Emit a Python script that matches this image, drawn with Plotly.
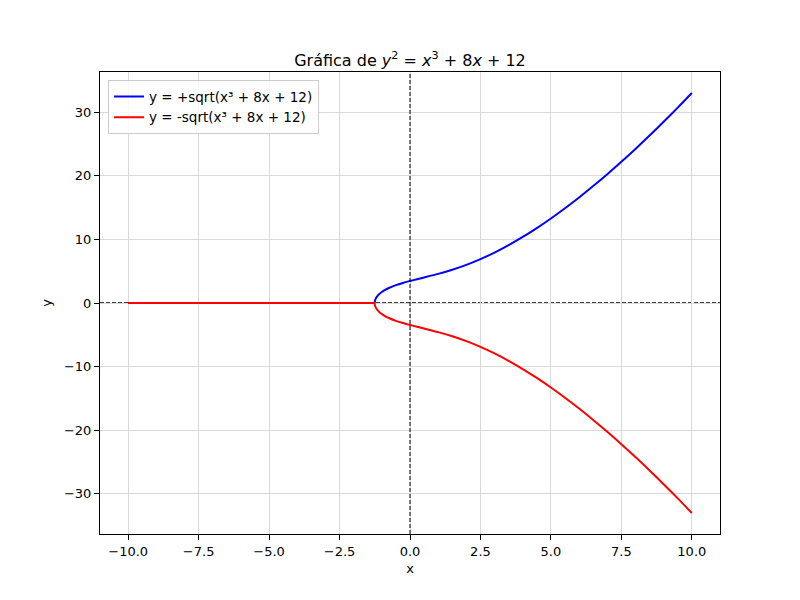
import plotly.graph_objects as go

# Values (upper branch; lower branch is its mirror)
flat_x = [-10.0, -1.2537]
flat_y = [0.0, 0.0]
x_vals = [-1.2537, -1.2535, -1.253, -1.252, -1.25, -1.245, -1.24, -1.23, -1.22, -1.2, -1.15, -1.1,
          -1.0, -0.9, -0.75, -0.5, -0.25, 0.0, 0.25, 0.5, 1.0, 1.5, 2.0, 2.5, 3.0, 3.5, 4.0, 4.5, 5.0,
          5.5, 6.0, 6.5, 7.0, 7.5, 8.0, 8.5, 9.0, 9.5, 10.0]
y_upper = [0.0, 0.049, 0.094, 0.147, 0.2165, 0.332, 0.4164, 0.547, 0.6513, 0.820, 1.131, 1.367,
           1.732, 2.018, 2.362, 2.806, 3.160, 3.464, 3.744, 4.016, 4.583, 5.232, 6.000, 6.901, 7.937,
           9.104, 10.392, 11.795, 13.304, 14.912, 16.613, 18.402, 20.273, 22.223, 24.249, 26.346,
           28.513, 30.747, 33.045]
y_lower = [-v for v in y_upper]

x_ticks = [-10, -7.5, -5, -2.5, 0, 2.5, 5, 7.5, 10]
x_tick_text = ["\u221210.0", "\u22127.5", "\u22125.0", "\u22122.5", "0.0", "2.5", "5.0", "7.5", "10.0"]
y_ticks = [-30, -20, -10, 0, 10, 20, 30]
y_tick_text = ["\u221230", "\u221220", "\u221210", "0", "10", "20", "30"]

font_family = "DejaVu Sans"

fig = go.Figure()
fig.add_trace(go.Scatter(x=flat_x, y=flat_y, mode="lines", showlegend=False, legendgroup="up",
                         line=dict(color="blue", width=2), hoverinfo="skip"))
fig.add_trace(go.Scatter(x=x_vals, y=y_upper, mode="lines", name="y = +sqrt(x³ + 8x + 12)",
                         legendgroup="up",
                         line=dict(color="blue", width=2, shape="spline", smoothing=0.8)))
fig.add_trace(go.Scatter(x=flat_x, y=flat_y, mode="lines", showlegend=False, legendgroup="down",
                         line=dict(color="red", width=2), hoverinfo="skip"))
fig.add_trace(go.Scatter(x=x_vals, y=y_lower, mode="lines", name="y = -sqrt(x³ + 8x + 12)",
                         legendgroup="down",
                         line=dict(color="red", width=2, shape="spline", smoothing=0.8)))

fig.add_hline(y=0, line=dict(color="black", width=1.3, dash="4px,2px"), layer="below")
fig.add_vline(x=0, line=dict(color="black", width=1, dash="4px,2px"), layer="above")

axis_common = dict(showline=True, mirror=True, linecolor="black", linewidth=1,
                   ticks="outside", ticklen=5, tickwidth=1, tickcolor="black",
                   showgrid=True, gridcolor="#d9d9d9", gridwidth=1, zeroline=False,
                   tickfont=dict(family=font_family, size=13, color="black"))

fig.update_layout(
    width=792, height=592,
    paper_bgcolor="white", plot_bgcolor="white",
    margin=dict(l=92, r=80, t=64, b=66),
    font=dict(family=font_family, size=13, color="black"),
    title=dict(text="Gráfica de <i>y</i><sup>2</sup> = <i>x</i><sup>3</sup> + 8<i>x</i> + 12",
               x=0.5, xanchor="center", xref="paper", y=1, yref="paper", yanchor="bottom",
               pad=dict(b=6), font=dict(family=font_family, size=16, color="black")),
    xaxis=dict(range=[-11, 11], tickvals=x_ticks, ticktext=x_tick_text,
               title=dict(text="x", font=dict(size=13), standoff=6), **axis_common),
    yaxis=dict(range=[-36.35, 36.35], tickvals=y_ticks, ticktext=y_tick_text,
               title=dict(text="y", font=dict(size=13), standoff=9), **axis_common),
    legend=dict(x=0.013, y=0.982, xanchor="left", yanchor="top",
                bgcolor="rgba(255,255,255,0.8)", bordercolor="#cccccc", borderwidth=1,
                font=dict(family=font_family, size=13.5), tracegroupgap=0, itemwidth=30),
    showlegend=True,
)

fig.write_html("out.html")
